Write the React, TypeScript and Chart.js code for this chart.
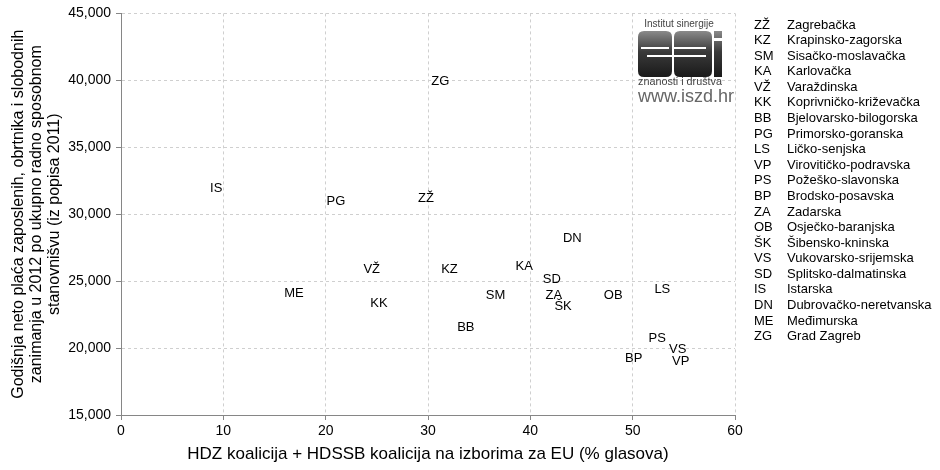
import React, { useEffect, useRef } from "react";
import { Chart, registerables } from "chart.js";
Chart.register(...registerables);

const codes = ["ZŽ", "KZ", "SM", "KA", "VŽ", "KK", "BB", "PG", "LS", "VP", "PS", "BP", "ZA", "OB", "ŠK", "VS", "SD", "IS", "DN", "ME", "ZG"];
const names = [
  "Zagrebačka", "Krapinsko-zagorska", "Sisačko-moslavačka", "Karlovačka", "Varaždinska",
  "Koprivničko-križevačka", "Bjelovarsko-bilogorska", "Primorsko-goranska", "Ličko-senjska",
  "Virovitičko-podravska", "Požeško-slavonska", "Brodsko-posavska", "Zadarska", "Osječko-baranjska",
  "Šibensko-kninska", "Vukovarsko-srijemska", "Splitsko-dalmatinska", "Istarska",
  "Dubrovačko-neretvanska", "Međimurska", "Grad Zagreb",
];
const voteShare = [29.8, 32.1, 36.6, 39.4, 24.5, 25.2, 33.7, 21.0, 52.9, 54.7, 52.4, 50.1, 42.3, 48.1, 43.2, 54.4, 42.1, 9.3, 44.1, 16.9, 31.2];
const netPay = [31150, 25900, 23900, 26100, 25850, 23300, 21550, 30950, 24400, 19000, 20750, 19250, 23900, 23900, 23100, 19900, 25150, 31900, 28200, 24100, 39900];

const xMin = 0, xMax = 60, xStep = 10;
const yMin = 15000, yMax = 45000, yStep = 5000;
const xTitle = "HDZ koalicija + HDSSB koalicija na izborima za EU (% glasova)";
const yTitle = [
  "Godišnja neto plaća zaposlenih, obrtnika i slobodnih",
  "zanimanja u 2012 po ukupno radno sposobnom",
  "stanovnišvu (iz popisa 2011)",
];

const FONT = "'Liberation Sans', Arial, sans-serif";

const labelPlugin = {
  id: "pointLabels",
  afterDatasetsDraw(chart: any) {
    const ctx = chart.ctx;
    const meta = chart.getDatasetMeta(0);
    ctx.save();
    ctx.font = `13px ${FONT}`;
    ctx.fillStyle = "#000";
    ctx.textAlign = "center";
    ctx.textBaseline = "middle";
    meta.data.forEach((el: any, i: number) => {
      ctx.fillText(codes[i], el.x, el.y);
    });
    ctx.restore();
  },
};

const legendPlugin = {
  id: "codeLegend",
  afterDraw(chart: any) {
    const ctx = chart.ctx;
    ctx.save();
    ctx.font = `13px ${FONT}`;
    ctx.fillStyle = "#000";
    ctx.textAlign = "left";
    ctx.textBaseline = "middle";
    const y0 = 25;
    const dy = 15.58;
    codes.forEach((c, i) => {
      ctx.fillText(c, 754, y0 + i * dy);
      ctx.fillText(names[i], 787, y0 + i * dy);
    });
    ctx.restore();
  },
};

function rr(ctx: CanvasRenderingContext2D, x: number, y: number, w: number, h: number, r: number) {
  ctx.beginPath();
  ctx.moveTo(x + r, y);
  ctx.lineTo(x + w - r, y);
  ctx.quadraticCurveTo(x + w, y, x + w, y + r);
  ctx.lineTo(x + w, y + h - r);
  ctx.quadraticCurveTo(x + w, y + h, x + w - r, y + h);
  ctx.lineTo(x + r, y + h);
  ctx.quadraticCurveTo(x, y + h, x, y + h - r);
  ctx.lineTo(x, y + r);
  ctx.quadraticCurveTo(x, y, x + r, y);
  ctx.closePath();
  ctx.fill();
}

const logoPlugin = {
  id: "logo",
  afterDraw(chart: any) {
    const ctx: CanvasRenderingContext2D = chart.ctx;
    ctx.save();
    ctx.textAlign = "center";
    ctx.textBaseline = "middle";
    ctx.fillStyle = "#444";
    ctx.font = `10px ${FONT}`;
    ctx.fillText("Institut sinergije", 679, 24, 74);
    const g = ctx.createLinearGradient(0, 31, 0, 77);
    g.addColorStop(0, "#8a8a8a");
    g.addColorStop(0.45, "#3a3a3a");
    g.addColorStop(1, "#1a1a1a");
    ctx.fillStyle = g;
    rr(ctx, 638, 31, 34, 46, 6);
    rr(ctx, 674, 31, 38, 46, 6);
    ctx.fillRect(714, 31, 8, 7);
    ctx.fillRect(714, 41, 8, 36);
    ctx.fillStyle = "#fff";
    ctx.fillRect(641, 47, 28, 2);
    ctx.fillRect(647, 55, 25, 2);
    ctx.fillRect(674, 47, 32, 2);
    ctx.fillRect(674, 55, 32, 2);
    ctx.fillStyle = "#444";
    ctx.font = `11px ${FONT}`;
    ctx.fillText("znanosti i društva", 680, 82, 84);
    ctx.fillStyle = "#666";
    ctx.font = `18px ${FONT}`;
    ctx.fillText("www.iszd.hr", 686, 97, 100);
    ctx.restore();
  },
};

export default function App() {
  const ref = useRef<HTMLCanvasElement | null>(null);
  useEffect(() => {
    document.body.style.margin = "0";
    const canvas = ref.current!;
    const axisColor = "#868686";
    const gridColor = "#cfcfcf";
    const chart = new Chart(canvas, {
      type: "scatter",
      data: {
        datasets: [
          {
            data: voteShare.map((x, i) => ({ x, y: netPay[i] })),
            pointRadius: 0,
            pointHoverRadius: 0,
            showLine: false,
          },
        ],
      },
      options: {
        animation: false,
        responsive: false,
        events: [],
        layout: { padding: { top: 12, right: 205, bottom: 0, left: 0 } },
        plugins: { legend: { display: false }, tooltip: { enabled: false } },
        scales: {
          x: {
            type: "linear",
            min: xMin,
            max: xMax,
            afterFit: (s: any) => { s.height = 55; },
            ticks: { stepSize: xStep, color: "#000", font: { family: FONT, size: 14 }, padding: 3, maxRotation: 0 },
            grid: { color: gridColor, tickLength: 5, tickColor: axisColor, tickBorderDash: [], tickWidth: 1 },
            border: { color: axisColor, dash: [3, 3], width: 1 },
            title: { display: true, text: xTitle, color: "#000", font: { family: FONT, size: 17, lineHeight: 1.2 }, padding: { top: 0, bottom: 5 } },
          },
          y: {
            type: "linear",
            min: yMin,
            max: yMax,
            afterFit: (s: any) => { s.width = 121; },
            ticks: {
              stepSize: yStep,
              color: "#000",
              font: { family: FONT, size: 14 },
              padding: 5,
              callback: (v: any) => Number(v).toLocaleString("en-US"),
            },
            grid: { color: gridColor, tickLength: 5, tickColor: axisColor, tickBorderDash: [], tickWidth: 1 },
            border: { color: axisColor, dash: [3, 3], width: 1 },
            title: { display: true, text: yTitle, color: "#000", font: { family: FONT, size: 16, lineHeight: 1.15 }, padding: { top: 9, bottom: 0 } },
          },
        },
      },
      plugins: [labelPlugin, legendPlugin, logoPlugin],
    } as any);
    return () => chart.destroy();
  }, []);
  return (
    <canvas
      ref={ref}
      width={940}
      height={470}
      style={{ display: "block", position: "absolute", left: 0, top: 0, width: 940, height: 470 }}
    />
  );
}
